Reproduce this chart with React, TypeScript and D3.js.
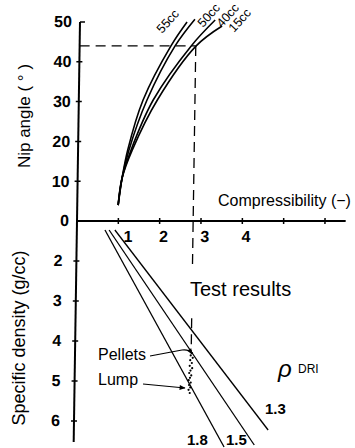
import React from 'react';
import * as d3 from 'd3';

// ---------- data ----------
const angleTickValues = [0, 10, 20, 30, 40, 50];
const densityTickValues = [2, 3, 4, 5, 6];
const compTickValues = [1, 2, 3, 4, 5, 6];
const compTickLabels = [1, 2, 3, 4];

const curveNames = ['55cc', '50cc', '40cc', '15cc'];
// [compressibility, nip angle]
const curve55: [number, number][] = [[0.99, 4], [1.075, 10.8], [1.2, 17.8], [1.555, 30.4], [2.21, 44], [2.59, 50]];
const curve50: [number, number][] = [[0.99, 4], [1.075, 10.8], [1.23, 17.8], [1.65, 30.4], [2.31, 44], [2.78, 50.7]];
const curve40: [number, number][] = [[0.99, 4], [1.075, 10.8], [1.28, 17.8], [1.8, 30.4], [2.7, 44], [3.27, 50.5]];
const curve15: [number, number][] = [[0.99, 4], [1.075, 10.8], [1.31, 17.8], [1.9, 30.4], [2.82, 44], [3.44, 49]];

const rhoNames = ['1.3', '1.5', '1.8'];
// [compressibility, specific density]
const rho13: [number, number][] = [[0.92, 1.225], [4.7, 6.225]];
const rho15: [number, number][] = [[0.78, 1.225], [4.37, 6.6]];
const rho18: [number, number][] = [[0.68, 1.225], [3.64, 6.65]];

const testCompressibility = 2.81;
const testNipAngle = 44;
const testDensityGap = [2.1, 3.43];
const testDensityEnd = 4.27;
// [compressibility, specific density]
const testSamples: [number, number][] = [
  [2.83, 4.3], [2.8, 4.36], [2.85, 4.42], [2.79, 4.48], [2.83, 4.55], [2.78, 4.62],
  [2.84, 4.68], [2.8, 4.74], [2.77, 4.8], [2.82, 4.86], [2.79, 4.92], [2.76, 4.98],
  [2.81, 5.04], [2.77, 5.1], [2.8, 5.16], [2.76, 5.22], [2.79, 5.3],
];

// ---------- layout ----------
const W = 355;
const H = 448;
const Y0 = 221;
const K = -0.015;
const skewDeg = (Math.atan(K) * 180) / Math.PI;

export default function App() {
  const x = d3.scaleLinear().domain([0, 6]).range([77, 325]);
  const yA = d3.scaleLinear().domain([0, 50]).range([Y0, 22]);
  const yD = d3.scaleLinear().domain([1, 6]).range([Y0, 421]);

  const curveLine = d3
    .line<[number, number]>()
    .x((d) => x(d[0]))
    .y((d) => yA(d[1]))
    .curve(d3.curveCatmullRom.alpha(0.5));
  const rhoLine = d3
    .line<[number, number]>()
    .x((d) => x(d[0]))
    .y((d) => yD(d[1]));

  const curves = [curve55, curve50, curve40, curve15];
  const rhos = [rho13, rho15, rho18];
  const x0 = x(0);
  const font = "'Liberation Sans', Arial, Helvetica, sans-serif";

  const curveLabelPos: [number, number][] = [[162, 34], [203, 28], [222, 28], [234, 33]];
  const rhoLabelPos: [number, number][] = [[265, 414], [226, 445], [187, 445]];

  return (
    <svg
      width={W}
      height={H}
      style={{ position: 'absolute', left: 0, top: 0, background: '#fff' }}
      fontFamily={font}
    >
      <defs>
        <marker id="arr" viewBox="0 0 10 10" refX="9" refY="5" markerWidth="7" markerHeight="6" orient="auto" markerUnits="userSpaceOnUse">
          <path d="M0,1 L10,5 L0,9 Z" fill="#000" />
        </marker>
      </defs>
      <g transform={`translate(0,${Y0}) skewX(${skewDeg}) translate(0,${-Y0})`}>
        {/* axes */}
        <line x1={x0} y1={22} x2={x0} y2={442} stroke="#000" strokeWidth={2} />
        <line x1={x0} y1={22} x2={x0 + 5} y2={22} stroke="#000" strokeWidth={1.5} />
        <line x1={x0} y1={Y0} x2={x(6.5)} y2={Y0} stroke="#000" strokeWidth={1.8} />
        {angleTickValues.filter((v) => v > 0 && v < 50).map((v) => (
          <line key={'ta' + v} x1={x0 - 3} x2={x0 + 3} y1={yA(v)} y2={yA(v)} stroke="#000" strokeWidth={1.5} />
        ))}
        {densityTickValues.map((v) => (
          <line key={'td' + v} x1={x0 - 3} x2={x0 + 3} y1={yD(v)} y2={yD(v)} stroke="#000" strokeWidth={1.5} />
        ))}
        {compTickValues.map((v) => (
          <line key={'tc' + v} x1={x(v)} x2={x(v)} y1={Y0 - 3} y2={Y0 + 3} stroke="#000" strokeWidth={1.5} />
        ))}
        {/* tick labels */}
        {angleTickValues.map((v) => (
          <text key={'la' + v} x={x0 - 8} y={yA(v)} textAnchor="end" dominantBaseline="central" fontSize={16} fontWeight="bold">
            {v}
          </text>
        ))}
        {densityTickValues.map((v) => (
          <text key={'ld' + v} x={x0 - 14} y={yD(v)} textAnchor="end" dominantBaseline="central" fontSize={16} fontWeight="bold">
            {v}
          </text>
        ))}
        {compTickLabels.map((v) => (
          <text key={'lc' + v} x={x(v) + (v === 1 ? 10 : 4)} y={237} textAnchor="middle" dominantBaseline="central" fontSize={16} fontWeight="bold">
            {v}
          </text>
        ))}
        {/* nip angle curves */}
        {curves.map((c, i) => (
          <path key={'c' + i} d={curveLine(c) || ''} fill="none" stroke="#000" strokeWidth={1.6} />
        ))}
        {/* rho lines */}
        {rhos.map((r, i) => (
          <path key={'r' + i} d={rhoLine(r) || ''} fill="none" stroke="#000" strokeWidth={1.3} />
        ))}
        {/* dashed guide */}
        <g fill="none" stroke="#000" strokeWidth={1.3} strokeDasharray="10,6">
          <line x1={x0} y1={yA(testNipAngle)} x2={x(testCompressibility)} y2={yA(testNipAngle)} />
          <line x1={x(testCompressibility)} y1={yA(testNipAngle)} x2={x(testCompressibility)} y2={yD(testDensityGap[0])} />
          <line x1={x(testCompressibility)} y1={yD(testDensityGap[1])} x2={x(testCompressibility)} y2={yD(testDensityEnd)} />
        </g>
        {/* test samples */}
        {testSamples.map((p, i) => (
          <circle key={'s' + i} cx={x(p[0])} cy={yD(p[1])} r={1.1} fill="#000" />
        ))}
      </g>

      {/* axis titles */}
      <text transform="translate(30,116) rotate(-90)" textAnchor="middle" fontSize={17}>
        Nip angle ( ° )
      </text>
      <text transform="translate(25,338) rotate(-90)" textAnchor="middle" fontSize={18}>
        Specific density (g/cc)
      </text>
      <text x={218} y={206} fontSize={16}>
        Compressibility (−)
      </text>
      <text x={190} y={296} fontSize={20}>
        Test results
      </text>

      {/* curve labels */}
      {curveNames.map((n, i) => (
        <text key={'cn' + i} transform={`translate(${curveLabelPos[i][0]},${curveLabelPos[i][1]}) rotate(-48)`} fontSize={12.5}>
          {n}
        </text>
      ))}

      {/* rho labels */}
      {rhoNames.map((n, i) => (
        <text key={'rn' + i} x={rhoLabelPos[i][0]} y={rhoLabelPos[i][1]} fontSize={15} fontWeight="bold">
          {n}
        </text>
      ))}
      <text x={278} y={377} fontSize={24} fontStyle="italic">
        ρ
      </text>
      <text x={298} y={373} fontSize={12}>
        DRI
      </text>

      {/* annotations */}
      <text x={98} y={360} fontSize={16}>
        Pellets
      </text>
      <text x={98} y={385} fontSize={16}>
        Lump
      </text>
      <path d="M150,356 L182,350 Q189,349 192,354" fill="none" stroke="#000" strokeWidth={1.2} markerEnd="url(#arr)" />
      <path d="M143,384 L185,388" fill="none" stroke="#000" strokeWidth={1.2} markerEnd="url(#arr)" />
    </svg>
  );
}
